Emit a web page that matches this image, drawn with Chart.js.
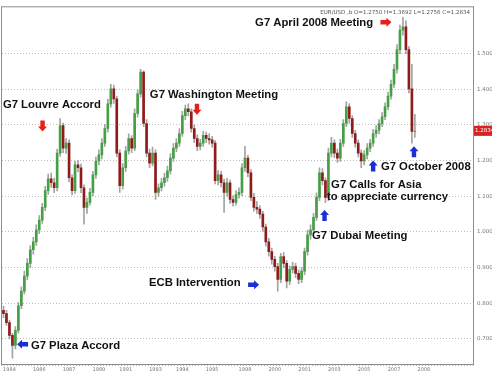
<!DOCTYPE html>
<html>
<head>
<meta charset="utf-8">
<script src="https://cdn.jsdelivr.net/npm/chart.js@4.4.0/dist/chart.umd.min.js"></script>
<style>
  html, body { margin: 0; padding: 0; background: #fff; }
  #wrap { width: 492px; height: 379px; }
</style>
</head>
<body>
<div id="wrap"><canvas id="fxChart" width="492" height="379"></canvas></div>
<script>
// EUR/USD candles, roughly two-month bars, Oct 1984 -> Oct 2008
const opens = [0.780, 0.771, 0.746, 0.710, 0.682, 0.724, 0.793, 0.834, 0.876, 0.912,
  0.950, 0.972, 1.006, 1.033, 1.069, 1.116, 1.149, 1.138, 1.124, 1.221,
  1.298, 1.235, 1.249, 1.152, 1.116, 1.188, 1.180, 1.124, 1.069, 1.083,
  1.111, 1.160, 1.199, 1.216, 1.249, 1.290, 1.359, 1.401, 1.373, 1.221,
  1.130, 1.180, 1.227, 1.262, 1.235, 1.332, 1.387, 1.448, 1.304, 1.221,
  1.193, 1.221, 1.111, 1.124, 1.138, 1.152, 1.171, 1.207, 1.235, 1.249,
  1.276, 1.326, 1.345, 1.337, 1.290, 1.262, 1.240, 1.249, 1.271, 1.262,
  1.258, 1.249, 1.144, 1.160, 1.138, 1.111, 1.138, 1.091, 1.083, 1.105,
  1.111, 1.180, 1.207, 1.166, 1.097, 1.069, 1.064, 1.050, 1.014, 0.972,
  0.945, 0.923, 0.903, 0.867, 0.931, 0.912, 0.862, 0.895, 0.903, 0.884,
  0.867, 0.890, 0.945, 0.992, 1.006, 1.041, 1.097, 1.166, 1.144, 1.097,
  1.221, 1.249, 1.221, 1.207, 1.249, 1.304, 1.351, 1.318, 1.276, 1.249,
  1.221, 1.199, 1.216, 1.235, 1.249, 1.276, 1.285, 1.304, 1.323, 1.351,
  1.381, 1.414, 1.456, 1.511, 1.566, 1.575, 1.511, 1.401, 1.282];
const highs = [0.792, 0.780, 0.752, 0.716, 0.735, 0.802, 0.846, 0.890, 0.925, 0.962,
  0.985, 1.020, 1.046, 1.080, 1.128, 1.162, 1.165, 1.150, 1.232, 1.318,
  1.305, 1.262, 1.258, 1.160, 1.198, 1.200, 1.190, 1.132, 1.095, 1.122,
  1.170, 1.210, 1.230, 1.262, 1.302, 1.372, 1.414, 1.412, 1.380, 1.230,
  1.192, 1.240, 1.275, 1.270, 1.345, 1.398, 1.456, 1.452, 1.315, 1.232,
  1.238, 1.230, 1.135, 1.150, 1.165, 1.185, 1.220, 1.248, 1.262, 1.290,
  1.338, 1.356, 1.359, 1.345, 1.300, 1.272, 1.260, 1.282, 1.280, 1.275,
  1.268, 1.256, 1.172, 1.170, 1.148, 1.150, 1.146, 1.102, 1.116, 1.124,
  1.192, 1.240, 1.215, 1.175, 1.108, 1.085, 1.074, 1.058, 1.022, 0.982,
  0.955, 0.932, 0.912, 0.940, 0.942, 0.920, 0.905, 0.915, 0.912, 0.894,
  0.900, 0.955, 1.005, 1.020, 1.052, 1.110, 1.180, 1.178, 1.152, 1.235,
  1.265, 1.258, 1.232, 1.260, 1.315, 1.365, 1.360, 1.326, 1.285, 1.258,
  1.230, 1.228, 1.248, 1.260, 1.288, 1.298, 1.315, 1.335, 1.362, 1.392,
  1.426, 1.470, 1.525, 1.580, 1.602, 1.592, 1.520, 1.470, 1.330];
const lows = [0.760, 0.738, 0.700, 0.646, 0.672, 0.716, 0.785, 0.826, 0.866, 0.900,
  0.938, 0.962, 0.995, 1.024, 1.060, 1.105, 1.125, 1.110, 1.115, 1.212,
  1.222, 1.220, 1.140, 1.104, 1.108, 1.168, 1.110, 1.022, 1.052, 1.075,
  1.102, 1.150, 1.188, 1.205, 1.240, 1.280, 1.350, 1.360, 1.210, 1.111,
  1.120, 1.170, 1.218, 1.222, 1.228, 1.322, 1.378, 1.295, 1.210, 1.180,
  1.185, 1.091, 1.100, 1.115, 1.128, 1.142, 1.162, 1.198, 1.225, 1.240,
  1.268, 1.315, 1.325, 1.280, 1.250, 1.228, 1.230, 1.240, 1.250, 1.246,
  1.238, 1.135, 1.132, 1.126, 1.055, 1.100, 1.080, 1.072, 1.075, 1.095,
  1.102, 1.170, 1.155, 1.088, 1.058, 1.052, 1.038, 1.002, 0.960, 0.932,
  0.910, 0.890, 0.834, 0.858, 0.900, 0.843, 0.852, 0.885, 0.872, 0.855,
  0.858, 0.880, 0.935, 0.980, 0.995, 1.032, 1.088, 1.132, 1.082, 1.088,
  1.210, 1.208, 1.195, 1.198, 1.240, 1.295, 1.305, 1.265, 1.238, 1.210,
  1.180, 1.188, 1.205, 1.225, 1.240, 1.265, 1.275, 1.295, 1.315, 1.342,
  1.372, 1.405, 1.445, 1.500, 1.552, 1.500, 1.390, 1.249, 1.265];
const closes = [0.771, 0.746, 0.710, 0.682, 0.724, 0.793, 0.834, 0.876, 0.912, 0.950,
  0.972, 1.006, 1.033, 1.069, 1.116, 1.149, 1.138, 1.124, 1.221, 1.298,
  1.235, 1.249, 1.152, 1.116, 1.188, 1.180, 1.124, 1.069, 1.083, 1.111,
  1.160, 1.199, 1.216, 1.249, 1.290, 1.359, 1.401, 1.373, 1.221, 1.130,
  1.180, 1.227, 1.262, 1.235, 1.332, 1.387, 1.448, 1.304, 1.221, 1.193,
  1.221, 1.111, 1.124, 1.138, 1.152, 1.171, 1.207, 1.235, 1.249, 1.276,
  1.326, 1.345, 1.337, 1.290, 1.262, 1.240, 1.249, 1.271, 1.262, 1.258,
  1.249, 1.144, 1.160, 1.138, 1.111, 1.138, 1.091, 1.083, 1.105, 1.111,
  1.180, 1.207, 1.166, 1.097, 1.069, 1.064, 1.050, 1.014, 0.972, 0.945,
  0.923, 0.903, 0.867, 0.931, 0.912, 0.862, 0.895, 0.903, 0.884, 0.867,
  0.890, 0.945, 0.992, 1.006, 1.041, 1.097, 1.166, 1.144, 1.097, 1.221,
  1.249, 1.221, 1.207, 1.249, 1.304, 1.351, 1.318, 1.276, 1.249, 1.221,
  1.199, 1.216, 1.235, 1.249, 1.276, 1.285, 1.304, 1.323, 1.351, 1.381,
  1.414, 1.456, 1.511, 1.566, 1.575, 1.511, 1.401, 1.282, 1.283];

const slotCount = 158; // empty space to the right of the last bar
const xTickIdx = [2, 12, 22, 32, 41, 51, 60, 70, 81, 91, 101, 111, 121, 131, 141];
const xTickLabels = ['1984', '1986', '1987', '1989', '1991', '1993', '1994', '1995',
  '1998', '2000', '2001', '2003', '2005', '2007', '2008'];
const yTicks = [0.7, 0.8, 0.9, 1.0, 1.1, 1.2, 1.3, 1.4, 1.5];
const headerText = 'EUR/USD ,b O=1.2750 H=1.3692 L=1.2756 C=1.2834';
const lastPrice = 1.2834;

// notes and arrows sit at (bar index, price)
const notes = [
  { text: 'G7 April 2008 Meeting', i: 84.4, v: 1.586 },
  { text: 'G7 Louvre Accord', i: -0.2, v: 1.357 },
  { text: 'G7 Washington Meeting', i: 49.1, v: 1.384 },
  { text: 'G7 October 2008', i: 126.6, v: 1.182 },
  { text: 'G7 Calls for Asia', i: 109.9, v: 1.133 },
  { text: 'to appreciate currency', i: 108.5, v: 1.099 },
  { text: 'G7 Dubai Meeting', i: 103.5, v: 0.989 },
  { text: 'ECB Intervention', i: 48.8, v: 0.856 },
  { text: 'G7 Plaza Accord', i: 9.2, v: 0.680 }
];
const arrows = [
  { i: 13.1, v: 1.297, dir: 'down', color: '#e3201b' },
  { i: 64.9, v: 1.344, dir: 'down', color: '#e3201b' },
  { i: 128.3, v: 1.588, dir: 'right', color: '#e3201b' },
  { i: 124.0, v: 1.185, dir: 'up', color: '#1b2fd6' },
  { i: 137.7, v: 1.225, dir: 'up', color: '#1b2fd6' },
  { i: 107.7, v: 1.046, dir: 'up', color: '#1b2fd6' },
  { i: 83.9, v: 0.852, dir: 'right', color: '#1b2fd6' },
  { i: 6.4, v: 0.685, dir: 'left', color: '#1b2fd6' }
];

const labels = [];
for (let k = 0; k < slotCount; k++) {
  const m = 9 + 2 * k;
  labels.push((1984 + Math.floor(m / 12)) + '-' + String(m % 12 + 1).padStart(2, '0'));
}
const bodies = opens.map((o, i) => [o, closes[i]]);
const wicks = lows.map((l, i) => [l, highs[i]]);
const bodyColors = opens.map((o, i) => closes[i] >= o ? '#45a045' : '#8e1c1c');

function drawArrow(ctx, cx, cy, dir, color) {
  const ang = { right: 0, down: Math.PI / 2, left: Math.PI, up: -Math.PI / 2 }[dir];
  const len = 11, head = 5, hw = 4.5, sw = 2.2;
  ctx.save();
  ctx.translate(cx, cy);
  ctx.rotate(ang);
  ctx.fillStyle = color;
  ctx.beginPath();
  ctx.moveTo(-len / 2, -sw);
  ctx.lineTo(len / 2 - head, -sw);
  ctx.lineTo(len / 2 - head, -hw);
  ctx.lineTo(len / 2, 0);
  ctx.lineTo(len / 2 - head, hw);
  ctx.lineTo(len / 2 - head, sw);
  ctx.lineTo(-len / 2, sw);
  ctx.closePath();
  ctx.fill();
  ctx.restore();
}

const notesPlugin = {
  id: 'notes',
  afterDatasetsDraw(chart) {
    const ctx = chart.ctx;
    const a = chart.chartArea;
    const xs = chart.scales.x, ys = chart.scales.y;
    ctx.save();
    ctx.strokeStyle = '#8c8c8c';
    ctx.lineWidth = 1;
    ctx.strokeRect(a.left - 0.5, a.top - 0.5, a.right - a.left + 1, a.bottom - a.top + 1);

    ctx.font = 'bold 11.3px "Liberation Sans", Arial, sans-serif';
    ctx.fillStyle = '#111';
    ctx.textAlign = 'left';
    ctx.textBaseline = 'middle';
    notes.forEach(n => {
      ctx.fillText(n.text, xs.getPixelForValue(n.i), ys.getPixelForValue(n.v));
    });
    arrows.forEach(ar => {
      drawArrow(ctx, xs.getPixelForValue(ar.i), ys.getPixelForValue(ar.v), ar.dir, ar.color);
    });

    ctx.font = '5.5px "DejaVu Sans", sans-serif';
    ctx.fillStyle = '#555';
    ctx.textAlign = 'right';
    ctx.fillText(headerText, a.right - 3, a.top + 5);

    const py = ys.getPixelForValue(lastPrice);
    ctx.fillStyle = '#d8231f';
    ctx.fillRect(a.right + 1, py - 5, chart.width - a.right - 1, 10);
    ctx.fillStyle = '#fff';
    ctx.textAlign = 'left';
    ctx.font = '5.5px "DejaVu Sans", sans-serif';
    ctx.fillText(lastPrice.toFixed(4), a.right + 2, py);
    ctx.restore();
  }
};

new Chart(document.getElementById('fxChart'), {
  type: 'bar',
  data: {
    labels,
    datasets: [
      { data: bodies, backgroundColor: bodyColors, barThickness: 2, order: 0 },
      { data: wicks, backgroundColor: '#a3a3a3', barThickness: 1, order: 1 }
    ]
  },
  options: {
    responsive: false,
    animation: false,
    devicePixelRatio: 1,
    layout: { padding: { left: 2, top: 2, right: 0, bottom: 0 } },
    datasets: { bar: { grouped: false } },
    plugins: { legend: { display: false }, tooltip: { enabled: false } },
    scales: {
      x: {
        offset: true,
        grid: { display: true, drawOnChartArea: false, drawTicks: true, tickLength: 2, color: '#b8b8b8' },
        border: { display: false },
        ticks: {
          autoSkip: false, maxRotation: 0, minRotation: 0, padding: 1,
          color: '#777', font: { size: 5, family: '"DejaVu Sans", sans-serif' },
          callback: (val, idx) => {
            const k = xTickIdx.indexOf(idx);
            return k >= 0 ? xTickLabels[k] : '';
          }
        },
        afterFit: s => { s.height = 15; }
      },
      y: {
        position: 'right',
        min: 0.6298,
        max: 1.6298,
        afterBuildTicks: s => { s.ticks = yTicks.map(v => ({ value: v })); },
        grid: { color: '#bcbcbc', drawTicks: false },
        border: { display: false, dash: [1, 2] },
        ticks: {
          padding: 4, color: '#777',
          font: { size: 5.5, family: '"DejaVu Sans", sans-serif' },
          callback: v => v.toFixed(4)
        },
        afterFit: s => { s.width = 19; }
      }
    }
  },
  plugins: [notesPlugin]
});
</script>
</body>
</html>
